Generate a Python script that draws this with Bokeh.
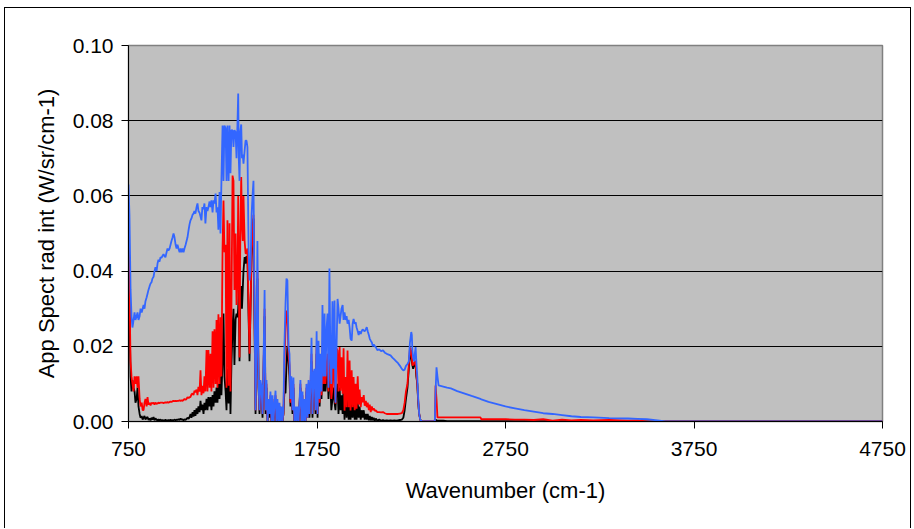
from bokeh.plotting import figure
from bokeh.models import FixedTicker, NumeralTickFormatter, Range1d
from bokeh.embed import file_html
from bokeh.resources import INLINE

# ---- data ----
wavenumber = [
    750, 755, 761, 766, 771, 777, 782, 787, 793, 798, 803, 809, 814, 820, 825, 830, 835, 840, 846, 851,
    856, 862, 867, 872, 877, 883, 888, 893, 899, 904, 909, 914, 920, 925, 930, 936, 941, 946, 952, 957,
    962, 968, 973, 978, 984, 989, 994, 1000, 1005, 1010, 1015, 1021, 1026, 1031, 1037, 1042, 1047, 1053, 1058, 1063,
    1069, 1074, 1079, 1084, 1090, 1095, 1100, 1105, 1111, 1116, 1121, 1127,
    1132, 1137, 1142, 1148, 1153, 1158, 1164, 1169, 1174, 1180, 1185, 1190, 1196, 1201, 1206, 1212, 1217, 1222, 1227, 1233,
    1238, 1243, 1249, 1254, 1259, 1265, 1270, 1275, 1281, 1286, 1291, 1296, 1302, 1307, 1312, 1318, 1323, 1328, 1332, 1335,
    1339, 1343, 1348, 1352, 1356, 1360, 1366, 1371, 1376, 1381, 1387, 1392, 1397, 1403, 1408, 1413, 1418,
    1424, 1429, 1434, 1440, 1445, 1450, 1456, 1461, 1466, 1472, 1477, 1482, 1488, 1493, 1498, 1503, 1509, 1514, 1519, 1525,
    1530, 1535, 1540, 1546, 1551, 1556, 1562, 1567, 1572, 1577, 1583, 1588, 1593, 1599, 1604, 1609, 1614, 1620, 1625, 1630,
    1636, 1641, 1646, 1652, 1657, 1662, 1668, 1673, 1678, 1684, 1689, 1694, 1700, 1705, 1710, 1716, 1721, 1726, 1732, 1737,
    1742, 1748, 1753, 1758, 1764, 1769, 1774, 1779, 1785, 1790, 1795, 1801, 1806, 1811, 1816, 1821,
    1826, 1832, 1837, 1843, 1848, 1853, 1859, 1864, 1870, 1875, 1880, 1886, 1891, 1896, 1902, 1907, 1912, 1918, 1923, 1928,
    1934, 1939, 1944, 1950, 1955, 1960, 1966, 1971, 1976, 1982, 1987, 1992, 1998, 2003, 2009, 2014, 2019, 2025, 2030, 2035,
    2041, 2046, 2051, 2057, 2062, 2070, 2080, 2090, 2100, 2110, 2120, 2130, 2140, 2150, 2160, 2170, 2180, 2190, 2200, 2208,
    2215, 2222, 2230, 2237, 2243, 2247, 2250, 2253, 2256, 2260, 2265, 2270, 2273, 2277, 2282, 2287, 2292, 2299, 2310,
    2375, 2379, 2384, 2389, 2395, 2420, 2440, 2460, 2494, 2530, 2570, 2617, 2622, 2660, 2700, 2750, 2800, 2850, 2900, 2950,
    3000, 3050, 3100, 3150, 3216, 3300, 3400, 3450, 3500, 3556, 3600, 4750,
]

blue_series = [
    .063, .055, .035, .028, .025, .027, .029, .027, .028, .029, .027, .028, .030, .029, .030, .031, .030, .032, .033, .034,
    .035, .036, .0367, .037, .038, .0385, .040, .041, .040, .042, .043, .0425, .0437, .0435, .044, .0445, .044, .0437, .045, .046,
    .0455, .046, .047, .048, .049, .050, .049, .047, .046, .047, .046, .045, .046, .045, .046, .045, .046, .047, .048, .049,
    .051, .0525, .0535, .054, .055, .0553, .056, .0553, .057, .058, .056, .0555,
    .0545, .0535, .057, .0565, .058, .0527, .057, .056, .057, .0585, .057, .0588, .0556, .0588, .058, .0606, .0556, .057, .051, .061,
    .050, .064, .0787, .064, .0787, .078, .064, .0787, .064, .0787, .066, .0775, .0774, .073, .0775, .077, .070, .079, .0872, .070,
    .064, .077, .079, .070, .071, .0686, .072, .0747, .0747, .073, .046, .0375, .040, .055, .060, .064, .0356,
    .003, .020, .048, .011, .003, .011, .009, .002, .015, .035, .003, .011, .0, .006, .002, .008, .0, .007, .0, .005,
    .0082, .0, .006, .0, .005, .0, .004, .0, .003, .020, .0313, .038, .0375, .020, .018, .006, .012, .003, .0117, .0,
    .004, .0, .004, .0, .005, .011, .0, .008, .0, .006, .0, .010, .001, .011, .002, .011, .0223, .002, .013, .014,
    .003, .024, .002, .0215, .006, .018, .008, .031, .012, .0287, .012, .025, .0287, .009, .0407, .018,
    .010, .032, .014, .0322, .005, .018, .0326, .030, .026, .028, .030, .031, .027, .029, .027, .028, .026, .027, .025, .022,
    .0215, .026, .0273, .026, .0264, .025, .024, .023, .024, .0233, .024, .0245, .0242, .024, .0245, .0251, .024, .023, .022, .0215,
    .021, .020, .0205, .020, .0198, .019, .0192, .0187, .0189, .0183, .018, .0178, .0176, .017, .0165, .016, .0155, .0148, .014, .0136,
    .0138, .0148, .0153, .016, .021, .0225, .0238, .023, .019, .017, .016, .0185, .0198, .016, .012, .006, .002, .0003, .0,
    .0, .008, .0144, .012, .0096, .0093, .0090, .0088, .0081, .0075, .0068, .0060, .0059, .0052, .0047, .0040, .0035, .0030, .0026, .0022,
    .0020, .0017, .0014, .0012, .0011, .0009, .0008, .0007, .0006, .0003, .0, .0,
]

red_series = [
    .050, .035, .016, .012, .010, .008, .012, .010, .012, .009, .012, .006, .004, .005, .003, .003, .005, .006, .004, .0065,
    .0045, .005, .0043, .005, .0048, .005, .0045, .005, .0047, .0048, .005, .0049, .005, .005, .005, .0049, .005, .0051, .005, .0052,
    .005, .0052, .0053, .0052, .0054, .0055, .0054, .0055, .0054, .0055, .0055, .0056, .0055, .0056, .0055, .0057, .006, .0058, .006, .0065,
    .0062, .0065, .0065, .0072, .0075, .007, .0082, .0078, .0085, .007, .0092, .008,
    .0136, .007, .0095, .0075, .012, .008, .019, .008, .019, .009, .018, .008, .024, .009, .0245, .010, .027, .009, .0285, .010,
    .0277, .012, .046, .0588, .045, .047, .009, .0535, .0095, .0527, .008, .030, .0654, .064, .035, .050, .031, .0375, .060, .040,
    .017, .048, .065, .0527, .048, .060, .048, .0447, .0447, .046, .030, .018, .030, .045, .050, .055, .030,
    .003, .018, .040, .010, .003, .010, .008, .002, .013, .030, .003, .010, .0, .005, .002, .007, .0, .006, .0, .004,
    .007, .0, .005, .0, .004, .0, .003, .0, .002, .015, .025, .0295, .028, .018, .015, .005, .010, .003, .010, .0,
    .003, .0, .003, .0, .004, .010, .0, .007, .0, .005, .0, .009, .001, .010, .002, .010, .018, .002, .012, .012,
    .003, .020, .002, .018, .005, .015, .007, .020, .010, .015, .010, .015, .018, .008, .020, .012,
    .006, .0091, .0207, .010, .0047, .0195, .0189, .008, .0198, .0082, .0171, .0074, .0195, .0029, .0118, .0038, .0189, .0038, .0162, .0029,
    .0136, .0038, .0118, .003, .010, .0034, .012, .0045, .0085, .0038, .0065, .0051, .007, .0042, .0055, .0038, .005, .003, .0045, .0025,
    .004, .003, .0035, .0028, .003, .0025, .0025, .0024, .0025, .0022, .002, .002, .002, .002, .002, .002, .002, .0021, .0022, .003,
    .005, .008, .010, .015, .0195, .0195, .018, .017, .015, .015, .0155, .0162, .015, .013, .010, .0056, .002, .0003, .0,
    .0, .0096, .006, .0011, .0011, .0011, .0011, .0011, .0011, .0011, .0011, .0011, .0006, .0006, .0006, .0006, .0005, .0005, .0004, .0006,
    .0002, .0005, .0003, .0004, .0003, .0004, .0002, .0003, .0, .0, .0, .0,
]

black_series = [
    .045, .030, .012, .008, .011, .009, .008, .005, .006, .009, .004, .002, .001, .0015, .0005, .001, .0015, .0005, .001, .0012,
    .0004, .0008, .0003, .001, .0005, .0012, .0003, .0008, .0005, .0002, .0006, .0003, .0005, .0002, .0004, .0003, .0002, .0005, .0002, .0003,
    .0004, .0002, .0005, .0003, .0004, .0003, .0005, .0003, .0005, .0004, .0006, .0004, .0008, .0005, .0006, .0003, .0006, .0004, .0007, .001,
    .0007, .0012, .002, .001, .0025, .0013, .003, .0015, .0035, .002, .004, .0025,
    .0055, .003, .0045, .002, .005, .003, .006, .003, .0065, .004, .0065, .003, .007, .004, .008, .005, .009, .005, .010, .006,
    .012, .007, .016, .0287, .012, .008, .003, .014, .0048, .020, .002, .015, .025, .030, .015, .027, .0287, .0277, .030, .035,
    .016, .033, .036, .030, .035, .040, .0437, .042, .044, .043, .028, .016, .029, .044, .049, .054, .029,
    .002, .017, .038, .009, .002, .009, .007, .001, .012, .028, .002, .009, .0, .004, .001, .006, .0, .005, .0, .004,
    .006, .0, .004, .0, .004, .0, .003, .0, .002, .008, .0075, .015, .020, .016, .012, .004, .009, .002, .009, .0,
    .003, .0, .003, .0, .004, .009, .0, .006, .0, .004, .0, .008, .001, .009, .001, .009, .016, .001, .010, .010,
    .002, .018, .001, .016, .004, .012, .006, .016, .008, .012, .008, .012, .014, .006, .016, .010,
    .003, .006, .009, .005, .003, .008, .010, .002, .009, .003, .007, .002, .009, .0005, .0088, .001, .007, .0005, .006, .0005,
    .005, .001, .006, .0005, .004, .0005, .005, .001, .004, .0005, .003, .001, .003, .0005, .002, .0005, .002, .0003, .0015, .0003,
    .0012, .0003, .001, .0002, .0008, .0002, .0005, .0002, .0004, .0002, .0003, .0002, .0003, .0002, .0003, .0002, .0003, .0004, .0005, .001,
    .003, .006, .009, .014, .018, .019, .017, .016, .015, .014, .015, .016, .015, .012, .010, .005, .002, .0003, .0,
    .0, .0005, .0003, .0002, .0002, .0002, .0001, .0001, .0001, .0001, .0001, .0001, .0001, .0001, .0001, .0001, .0001, .0001, .0001, .0001,
    .0001, .0001, .0001, .0, .0, .0, .0, .0, .0, .0, .0, .0,
]

x_ticks = [750, 1750, 2750, 3750, 4750]
y_ticks = [0.0, 0.02, 0.04, 0.06, 0.08, 0.10]

assert len(wavenumber) == len(blue_series) == len(red_series) == len(black_series), (
    len(wavenumber), len(blue_series), len(red_series), len(black_series))

FONT = "Liberation Sans"

p = figure(width=907, height=521, output_backend="svg", toolbar_location=None,
           x_range=Range1d(750, 4750), y_range=Range1d(0, 0.10),
           min_border_left=123, min_border_right=30, min_border_top=37, min_border_bottom=108)
p.margin = (7, 0, 0, 4)
p.styles = {"border-left": "1px solid black", "border-top": "1px solid black",
            "border-right": "1px solid black"}

p.background_fill_color = "#C0C0C0"
p.border_fill_color = "white"
p.outline_line_color = "#808080"
p.outline_line_width = 1.5

p.line(wavenumber, black_series, color="black", line_width=1.8)
p.line(wavenumber, red_series, color="#FF0000", line_width=1.8)
p.line(wavenumber, blue_series, color="#3366FF", line_width=1.8)

p.xgrid.visible = False
p.ygrid.ticker = FixedTicker(ticks=y_ticks)
p.ygrid.grid_line_color = "black"
p.ygrid.grid_line_width = 1

p.xaxis.ticker = FixedTicker(ticks=x_ticks)
p.yaxis.ticker = FixedTicker(ticks=y_ticks)
p.yaxis.formatter = NumeralTickFormatter(format="0.00")

for ax in (p.xaxis, p.yaxis):
    ax.axis_line_color = "black"
    ax.axis_line_width = 1
    ax.major_tick_line_color = "black"
    ax.major_tick_out = 7
    ax.major_tick_in = 0
    ax.minor_tick_line_color = None
    ax.major_label_text_font = FONT
    ax.major_label_text_font_size = "21px"
    ax.major_label_text_color = "black"
    ax.axis_label_text_font = FONT
    ax.axis_label_text_font_size = "22px"
    ax.axis_label_text_font_style = "normal"
    ax.axis_label_text_color = "black"

p.xaxis.axis_label = "Wavenumber (cm-1)"
p.yaxis.axis_label = "App Spect rad int (W/sr/cm-1)"
p.xaxis.major_label_standoff = 13
p.yaxis.major_label_standoff = 8
p.xaxis.axis_label_standoff = 19
p.yaxis.axis_label_standoff = 11

open("out.html", "w").write(file_html(p, INLINE))
